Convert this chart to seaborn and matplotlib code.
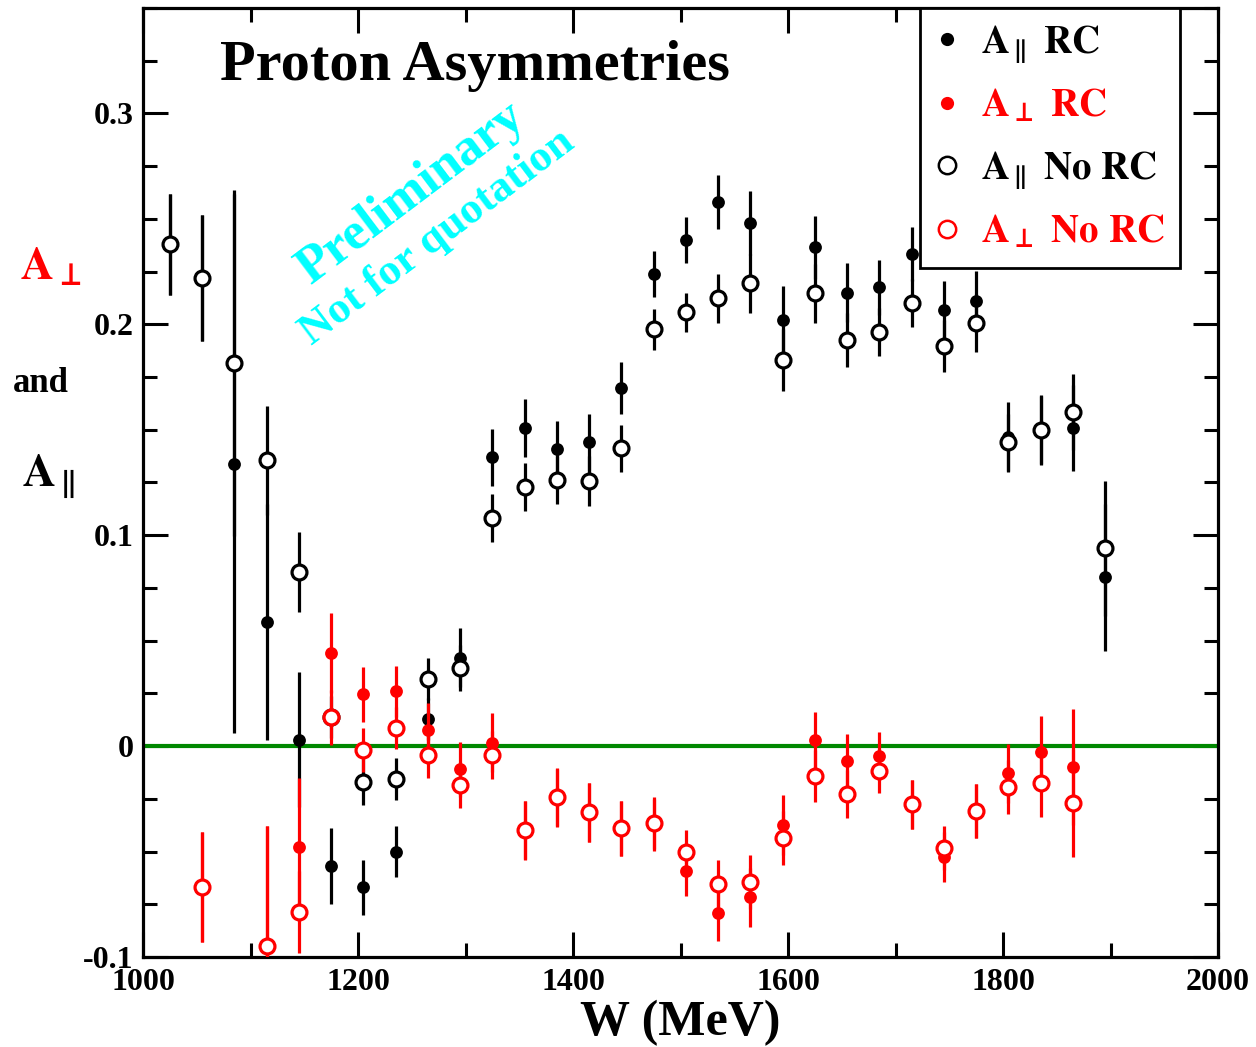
import numpy as np
import pandas as pd
import matplotlib
matplotlib.use("Agg")
import matplotlib.pyplot as plt
import seaborn as sns
from matplotlib.lines import Line2D
from matplotlib.ticker import MultipleLocator

# ---------------- data ----------------
W = [1025, 1055, 1085, 1115, 1145, 1175, 1205, 1235, 1265, 1295,
     1325, 1355, 1385, 1415, 1445, 1475, 1505, 1535, 1565, 1595,
     1625, 1655, 1685, 1715, 1745, 1775, 1805, 1835, 1865, 1895]

A_par_RC = [0.238, 0.222, 0.134, 0.059, 0.003, -0.057, -0.067, -0.050, 0.013, 0.042,
            0.137, 0.151, 0.141, 0.144, 0.170, 0.224, 0.240, 0.258, 0.248, 0.202,
            0.2365, 0.215, 0.2175, 0.2335, 0.207, 0.211, 0.1465, 0.150, 0.151, 0.080]
A_par_RC_err = [0.024, 0.030, 0.128, 0.056, 0.032, 0.018, 0.013, 0.012, 0.010, 0.014,
                0.0135, 0.0137, 0.0133, 0.0135, 0.0123, 0.011, 0.0107, 0.0128, 0.015, 0.016,
                0.015, 0.014, 0.013, 0.0128, 0.0137, 0.0142, 0.0166, 0.016, 0.0204, 0.035]

A_perp_RC = [np.nan, -0.0668, np.nan, -0.095, -0.048, 0.044, 0.0246, 0.026, 0.0076, -0.011,
             0.0016, -0.040, -0.0245, -0.0315, -0.039, -0.0375, -0.059, -0.079, -0.0716, -0.0374,
             0.0028, -0.0071, -0.0047, -0.0275, -0.0526, -0.0308, -0.0128, -0.0028, -0.010, np.nan]
A_perp_RC_err = [np.nan, 0.026, np.nan, 0.057, 0.033, 0.019, 0.013, 0.012, 0.013, 0.013,
                 0.014, 0.0138, 0.0138, 0.014, 0.013, 0.0123, 0.0123, 0.0133, 0.014, 0.014,
                 0.0133, 0.0128, 0.0114, 0.0116, 0.0118, 0.013, 0.014, 0.017, 0.0275, np.nan]

A_par_NoRC = [0.238, 0.222, 0.1815, 0.1355, 0.0825, 0.0137, -0.017, -0.0156, 0.032, 0.037,
              0.108, 0.1227, 0.126, 0.1256, 0.1412, 0.1976, 0.2057, 0.2123, 0.2194, 0.1829,
              0.2147, 0.1924, 0.1962, 0.210, 0.1896, 0.2005, 0.144, 0.150, 0.1583, 0.0938]
A_par_NoRC_err = [0.024, 0.030, 0.082, 0.026, 0.019, 0.010, 0.011, 0.010, 0.010, 0.011,
                  0.0114, 0.0114, 0.0114, 0.0118, 0.011, 0.0097, 0.0092, 0.0116, 0.014, 0.0147,
                  0.014, 0.0128, 0.0114, 0.0114, 0.0123, 0.0137, 0.0137, 0.0166, 0.018, 0.032]

A_perp_NoRC = [np.nan, -0.0668, np.nan, -0.095, -0.0785, 0.0137, -0.002, 0.0085, -0.0043, -0.0185,
               -0.0043, -0.0398, -0.0242, -0.0313, -0.0389, -0.0365, -0.050, -0.0654, -0.0645, -0.0436,
               -0.0142, -0.0227, -0.0118, -0.0275, -0.0483, -0.0308, -0.0194, -0.0175, -0.027, np.nan]
A_perp_NoRC_err = [np.nan, 0.026, np.nan, 0.057, 0.0195, 0.013, 0.0105, 0.010, 0.011, 0.011,
                   0.0114, 0.0138, 0.0138, 0.014, 0.013, 0.0123, 0.010, 0.0114, 0.0128, 0.0128,
                   0.0123, 0.0114, 0.0104, 0.0116, 0.0104, 0.013, 0.0128, 0.016, 0.0256, np.nan]

labels = [r"$\mathbf{A}_{\parallel}\ \mathbf{RC}$", r"$\mathbf{A}_{\bot}\ \mathbf{RC}$",
          r"$\mathbf{A}_{\parallel}\ \mathbf{No\ RC}$", r"$\mathbf{A}_{\bot}\ \mathbf{No\ RC}$"]
x_ticks = [1000, 1200, 1400, 1600, 1800, 2000]
y_ticks = [-0.1, 0.0, 0.1, 0.2, 0.3]
y_ticklabels = ["-0.1", "0", "0.1", "0.2", "0.3"]

# ---------------- style ----------------
sns.set_theme(style="ticks", rc={"axes.edgecolor": "black", "xtick.color": "black",
                                 "ytick.color": "black", "text.color": "black",
                                 "axes.labelcolor": "black"})
plt.rcParams["font.family"] = ["Liberation Serif", "DejaVu Serif"]
plt.rcParams["font.weight"] = "bold"
plt.rcParams["mathtext.fontset"] = "stix"

fig = plt.figure(figsize=(12.56, 10.47), dpi=100)
ax = fig.add_axes([143 / 1256, 1 - 957 / 1047, 1075 / 1256, 949 / 1047])
ax.set_xlim(1000, 2000)
ax.set_ylim(-0.1, 0.35)

ax.axhline(0, color="#008800", lw=3.0, zorder=1)

series = [
    (A_par_RC, A_par_RC_err, "black", True),
    (A_perp_RC, A_perp_RC_err, "red", True),
    (A_par_NoRC, A_par_NoRC_err, "black", False),
    (A_perp_NoRC, A_perp_NoRC_err, "red", False),
]
z = 2
for vals, errs, color, filled in series:
    df = pd.DataFrame({"W": W, "A": vals, "err": errs}).dropna()
    ax.errorbar(df["W"], df["A"], yerr=df["err"], fmt="none", ecolor=color,
                elinewidth=2.3, capsize=0, zorder=z)
    if filled:
        sns.scatterplot(data=df, x="W", y="A", color=color, s=85, linewidth=0,
                        ax=ax, zorder=z + 0.5, legend=False)
    else:
        sns.scatterplot(data=df, x="W", y="A", color="white", edgecolor=color,
                        s=115, linewidth=2.3, ax=ax, zorder=z + 0.5, legend=False)
    z += 1

# ticks
ax.set_xticks(x_ticks)
ax.xaxis.set_minor_locator(MultipleLocator(100))
ax.set_yticks(y_ticks)
ax.set_yticklabels(y_ticklabels)
ax.yaxis.set_minor_locator(MultipleLocator(0.025))
ax.tick_params(which="both", direction="in", top=True, right=True, width=2.2,
               color="black", labelsize=23)
ax.tick_params(which="major", length=18)
ax.tick_params(which="minor", length=10)
ax.tick_params(axis="x", pad=8)
ax.tick_params(axis="y", pad=7)
for sp in ax.spines.values():
    sp.set_linewidth(2.3)
    sp.set_color("black")

ax.set_xlabel("W (MeV)", fontsize=36, fontweight="bold", labelpad=2)
ax.set_ylabel("")

# title and watermark
ax.text(0.0716, 0.924, "Proton Asymmetries", transform=ax.transAxes,
        fontsize=42, fontweight="bold", ha="left", va="baseline")
ax.text(0.2490, 0.805, "Preliminary", transform=ax.transAxes, fontsize=38,
        fontweight="bold", color="cyan", rotation=37, rotation_mode="anchor",
        ha="center", va="center")
ax.text(0.274, 0.758, "Not for quotation", transform=ax.transAxes, fontsize=32,
        fontweight="bold", color="cyan", rotation=37, rotation_mode="anchor",
        ha="center", va="center")

# y-axis label pieces
fig.text(20 / 1256, 1 - 280 / 1047, r"$\mathbf{A}_{\bot}$", fontsize=33,
         color="red", ha="left", va="baseline", fontweight="normal")
fig.text(13 / 1256, 1 - 392 / 1047, "and", fontsize=25, fontweight="bold",
         ha="left", va="baseline")
fig.text(22 / 1256, 1 - 487 / 1047, r"$\mathbf{A}_{\parallel}$", fontsize=33,
         color="black", ha="left", va="baseline", fontweight="normal")

# legend
handles = [
    Line2D([], [], ls="none", marker="o", ms=9.5, mfc="black", mec="black", mew=0),
    Line2D([], [], ls="none", marker="o", ms=9.5, mfc="red", mec="red", mew=0),
    Line2D([], [], ls="none", marker="o", ms=12.5, mfc="white", mec="black", mew=1.8),
    Line2D([], [], ls="none", marker="o", ms=12.5, mfc="white", mec="red", mew=1.8),
]
leg = ax.legend(handles, labels, loc="upper left", bbox_to_anchor=(0.7228, 1.0),
                borderaxespad=0, fontsize=28, frameon=True, fancybox=False,
                edgecolor="black", framealpha=1, handlelength=0.6,
                handletextpad=0.57, borderpad=0.4, labelspacing=0.6)
leg.get_frame().set_linewidth(2.0)
for t, c in zip(leg.get_texts(), ["black", "red", "black", "red"]):
    t.set_color(c)
    t.set_fontweight("normal")
leg.set_zorder(10)

fig.savefig("out.png", dpi=100)
